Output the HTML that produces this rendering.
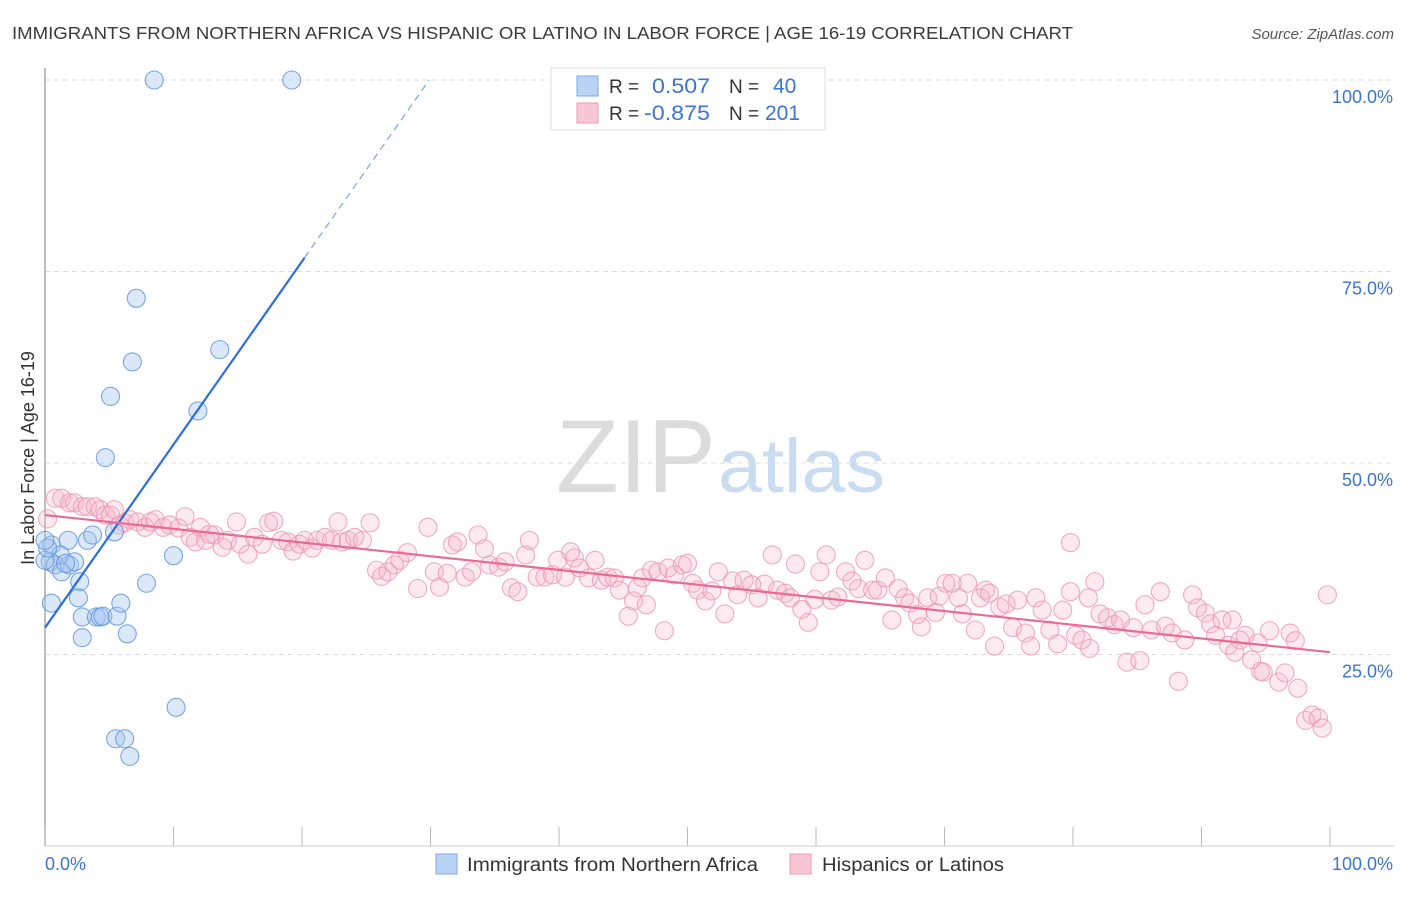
<!DOCTYPE html>
<html><head><meta charset="utf-8"><style>
body{margin:0;background:#fff;font-family:"Liberation Sans",sans-serif}
svg text{font-family:"Liberation Sans",sans-serif}
</style></head><body>
<svg id="chart" width="1406" height="892">
<text x="12" y="39" font-size="17.5" fill="#3a3a3a" textLength="1061" lengthAdjust="spacingAndGlyphs">IMMIGRANTS FROM NORTHERN AFRICA VS HISPANIC OR LATINO IN LABOR FORCE | AGE 16-19 CORRELATION CHART</text>
<text x="1394" y="39" font-size="15" fill="#555" font-style="italic" text-anchor="end">Source: ZipAtlas.com</text>
<text x="716" y="492" font-size="104" fill="#dcdcdc" text-anchor="end" font-family="Liberation Serif" textLength="160" lengthAdjust="spacingAndGlyphs">ZIP</text>
<text x="718" y="492" font-size="76" fill="#c9dcf2" textLength="167" lengthAdjust="spacingAndGlyphs">atlas</text>
<g id="grid"></g>
<g id="axes"></g>
<g id="pts"></g>
<g id="trends"></g>
<text transform="translate(34,458) rotate(-90)" font-size="18" fill="#333" text-anchor="middle">In Labor Force | Age 16-19</text>
<g>
<rect x="551" y="68" width="274" height="62" fill="#fff" stroke="#ddd"/>
<rect x="577" y="76" width="21" height="20" fill="#b9d3f5" stroke="#7aa8e6"/>
<rect x="577" y="103" width="21" height="20" fill="#f9c6d5" stroke="#ee9ab5"/>
<text x="609" y="93" font-size="19" fill="#333">R = </text><text x="652" y="93" font-size="21" fill="#3b74d1" textLength="58" lengthAdjust="spacingAndGlyphs">0.507</text>
<text x="729" y="93" font-size="19" fill="#333">N = </text><text x="773" y="93" font-size="21" fill="#3b74d1">40</text>
<text x="609" y="120" font-size="19" fill="#333">R = </text><text x="644" y="120" font-size="21" fill="#3b74d1" textLength="66" lengthAdjust="spacingAndGlyphs">-0.875</text>
<text x="729" y="120" font-size="19" fill="#333">N = </text><text x="765" y="120" font-size="21" fill="#3b74d1">201</text>
</g>
<g>
<rect x="436" y="854" width="21" height="20" fill="#b9d3f5" stroke="#7aa8e6"/>
<text x="467" y="871" font-size="19" fill="#333" textLength="291" lengthAdjust="spacingAndGlyphs">Immigrants from Northern Africa</text>
<rect x="790" y="854" width="21" height="20" fill="#f9c6d5" stroke="#ee9ab5"/>
<text x="822" y="871" font-size="19" fill="#333" textLength="182" lengthAdjust="spacingAndGlyphs">Hispanics or Latinos</text>
</g>
</svg>
<script>
const blueX=[8.5,19.2,7.1,6.8,13.6,5.1,11.9,4.7,0.5,1.8,1.2,0.4,0.8,1.3,1.9,2.3,3.3,2.7,5.4,10.0,7.9,0.5,2.6,2.9,4.0,4.3,4.5,5.6,5.9,6.4,2.9,10.2,5.5,6.2,6.6,3.7,0.0,0.2,1.6,0.0];
const blueY=[100,100,71.5,63.2,64.8,58.7,56.8,50.7,39.3,39.9,38.0,37.1,36.7,35.8,36.7,37.1,39.9,34.5,41.0,37.9,34.3,31.7,32.4,29.9,29.9,29.9,30.0,30.0,31.7,27.7,27.2,18.1,14.0,14.0,11.7,40.6,37.3,38.9,36.9,39.9];
const pinkX=[0.2,0.8,1.3,1.9,2.3,2.9,3.3,3.9,4.3,4.7,5.1,5.4,5.8,6.2,6.6,7.2,7.8,8.2,8.6,9.2,9.7,10.4,10.9,11.3,11.7,12.1,12.5,12.8,13.2,13.8,14.2,14.9,15.2,15.8,16.3,16.9,17.4,17.8,18.4,18.9,19.3,19.8,20.2,20.8,21.2,21.8,22.3,22.8,23.1,23.6,24.1,24.7,25.3,25.8,26.2,26.7,27.2,27.6,28.2,29.0,29.8,30.3,30.7,31.3,31.7,32.1,32.7,33.2,33.7,34.2,34.6,35.3,35.8,36.3,36.8,37.4,37.7,38.3,38.9,39.5,39.9,40.5,40.9,41.2,41.6,42.3,42.8,43.3,43.8,44.3,44.7,45.4,45.8,46.1,46.5,46.8,47.2,47.7,48.2,48.5,49.0,49.6,50.0,50.4,50.8,51.4,51.9,52.4,52.9,53.5,53.9,54.4,55.0,55.5,56.0,56.6,57.0,57.6,58.0,58.4,58.9,59.4,59.9,60.3,60.8,61.2,61.7,62.3,62.8,63.3,63.8,64.4,64.8,65.4,65.9,66.4,66.9,67.3,67.9,68.2,68.7,69.3,69.6,70.1,70.6,71.1,71.4,71.8,72.4,72.8,73.2,73.5,73.9,74.3,74.8,75.3,75.7,76.3,76.7,77.1,77.6,78.2,78.8,79.2,79.8,80.2,80.7,81.2,81.7,82.1,82.7,83.2,83.7,84.2,84.7,85.2,85.6,86.1,86.8,87.2,87.7,88.2,88.7,89.3,89.7,90.3,90.7,91.1,91.6,92.1,92.6,93.0,93.4,93.9,94.4,94.8,95.3,96.0,96.5,96.9,97.3,97.5,98.1,98.6,99.1,99.4,99.8,79.8,81.3,92.4,94.6];
const pinkY=[42.7,45.4,45.4,44.8,44.8,44.3,44.3,44.3,43.9,43.2,43.2,43.9,41.9,42.2,42.6,42.3,41.6,42.3,42.6,41.6,41.9,41.5,43.0,40.3,39.7,41.6,39.9,40.7,40.6,39.0,39.9,42.3,39.4,38.1,40.3,39.4,42.2,42.4,39.9,39.7,38.5,39.4,39.9,38.9,39.9,40.3,39.9,42.3,39.7,39.9,40.3,39.9,42.2,36.0,35.2,35.8,36.7,37.3,38.3,33.6,41.6,35.8,33.8,35.6,39.3,39.7,35.1,35.8,40.6,38.8,36.7,36.4,37.1,33.7,33.2,38.0,39.9,35.1,35.1,35.4,37.3,35.1,38.4,37.6,36.3,35.0,37.3,34.7,35.1,35.0,33.4,30.0,32.0,33.7,35.0,31.5,36.0,35.8,28.1,36.3,35.4,36.7,36.9,34.3,33.4,32.0,33.3,35.8,30.3,34.6,32.8,34.7,34.1,32.4,34.2,38.0,33.4,33.0,32.4,36.8,30.9,29.2,32.2,35.8,38.0,32.1,32.5,35.8,34.6,33.6,37.3,33.4,33.4,35.0,29.5,33.6,32.4,31.7,30.2,28.6,32.4,30.5,32.6,34.3,34.3,32.4,30.3,34.3,28.2,32.4,33.4,33.0,26.1,31.2,31.6,28.5,32.1,27.8,26.1,32.4,30.8,28.2,26.4,30.8,33.2,27.5,26.9,32.4,34.5,30.3,29.8,28.9,29.5,24.0,28.5,24.2,31.5,28.2,33.2,28.7,27.8,21.5,26.9,32.8,31.1,30.4,29.0,27.5,29.5,26.2,25.3,26.9,27.5,24.3,26.5,22.7,28.1,21.4,22.6,27.8,26.8,20.6,16.4,17.1,16.7,15.4,32.8,39.6,25.8,29.5,22.8];
const yTicks=[100,75,50,25];
const yTickLabels=["100.0%","75.0%","50.0%","25.0%"];
const xTicks=[0,10,20,30,40,50,60,70,80,90,100];
const blueTrend=[0,28.5,20.2,76.8,29.9,100];
const pinkTrend=[0,43.2,100,25.3];

const NS="http://www.w3.org/2000/svg";
const sx=v=>45+v*12.85, sy=v=>846-v*7.66;
function mk(tag,attrs,parent){const e=document.createElementNS(NS,tag);for(const k in attrs)e.setAttribute(k,attrs[k]);document.getElementById(parent).appendChild(e);return e;}
yTicks.forEach((t,i)=>{
  const l=mk('line',{x1:45,x2:1394,y1:sy(t),y2:sy(t),stroke:'#ddd','stroke-dasharray':'5,4'},'grid');
  
  
  const tx=mk('text',{x:1393,y:sy(t)+23,'font-size':18,fill:'#3b74d1','text-anchor':'end'},'axes');
  tx.textContent=yTickLabels[i];
  
  
});
const ya=mk('line',{x1:45,x2:45,y1:68,y2:846,stroke:'#aaa','stroke-width':1.5},'axes');


const xa=mk('line',{x1:45,x2:1394,y1:846,y2:846,stroke:'#ccc'},'axes');


xTicks.forEach(t=>{
  const l=mk('line',{x1:sx(t),x2:sx(t),y1:827,y2:846,stroke:'#bbb'},'axes');
  
  
});
const xl0=mk('text',{x:45,y:870,'font-size':18,fill:'#3b74d1'},'axes');xl0.textContent='0.0%';


const xl1=mk('text',{x:1393,y:870,'font-size':18,fill:'#3b74d1','text-anchor':'end'},'axes');xl1.textContent='100.0%';


pinkX.forEach((x,i)=>{
  const c=mk('circle',{cx:sx(x),cy:sy(pinkY[i]),r:9,fill:'rgba(246,180,202,0.28)',stroke:'rgba(236,150,180,0.8)','stroke-width':1.1},'pts');
  
  
});
blueX.forEach((x,i)=>{
  const c=mk('circle',{cx:sx(x),cy:sy(blueY[i]),r:9,fill:'rgba(165,198,240,0.4)',stroke:'rgba(100,150,222,0.85)','stroke-width':1.1},'pts');
  
  
});
const bt=mk('line',{x1:sx(blueTrend[0]),y1:sy(blueTrend[1]),x2:sx(blueTrend[2]),y2:sy(blueTrend[3]),stroke:'#2d6fd6','stroke-width':2.2},'trends');


const bd=mk('line',{x1:sx(blueTrend[2]),y1:sy(blueTrend[3]),x2:sx(blueTrend[4]),y2:sy(blueTrend[5]),stroke:'#7aa3e0','stroke-width':1.2,'stroke-dasharray':'7,5'},'trends');


const pt=mk('line',{x1:sx(pinkTrend[0]),y1:sy(pinkTrend[1]),x2:sx(pinkTrend[2]),y2:sy(pinkTrend[3]),stroke:'#eb6a93','stroke-width':2.2},'trends');


</script>
</body></html>
